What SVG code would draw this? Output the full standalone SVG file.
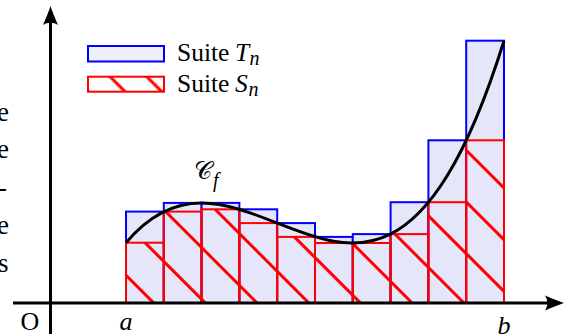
<svg xmlns="http://www.w3.org/2000/svg" width="567" height="334" viewBox="0 0 567 334">
<style>
.t{font-family:"Liberation Serif","DejaVu Serif",serif;fill:#000}
.it{font-style:italic}
.up{fill:#e6e6fa;stroke:#0000ff;stroke-width:2}
.lo{fill:url(#hatch);stroke:#ff0000;stroke-width:2}
.ax{stroke:#000;stroke-width:3;fill:none}
.cv{stroke:#000;stroke-width:3;fill:none}
</style>
<defs>
<pattern id="hatch" patternUnits="userSpaceOnUse" width="100" height="36.557" patternTransform="translate(0,-31.65) rotate(45)">
<rect x="0" y="16.78" width="100" height="3" fill="#ff0000"/>
</pattern>
<pattern id="hatchL" patternUnits="userSpaceOnUse" width="100" height="25.95" patternTransform="translate(0,-51.75) rotate(45)">
<rect x="0" y="11.47" width="100" height="3" fill="#ff0000"/>
</pattern>
<path id="arr" d="M0,0 C-5,-1.5 -12,-4.5 -19,-7.5 C-16,-3 -16,3 -19,7.5 C-12,4.5 -5,1.5 0,0Z" fill="#000"/>
</defs>
<rect width="567" height="334" fill="#fff"/>
<g id="margin-text" class="t" font-size="27" text-anchor="end">
<text x="9" y="121">e</text>
<text x="9" y="158">e</text>
<text x="7" y="196">-</text>
<text x="9" y="234">e</text>
<text x="8.5" y="272">s</text>
</g>
<g id="upper-sum">
<rect class="up" x="126" y="211.6" width="37.8" height="91.4"/>
<rect class="up" x="163.8" y="202.9" width="37.8" height="100.1"/>
<rect class="up" x="201.6" y="202.9" width="37.8" height="100.1"/>
<rect class="up" x="239.4" y="209.3" width="37.8" height="93.7"/>
<rect class="up" x="277.2" y="223.1" width="37.8" height="79.9"/>
<rect class="up" x="315" y="236.9" width="37.8" height="66.1"/>
<rect class="up" x="352.8" y="234.1" width="37.8" height="68.9"/>
<rect class="up" x="390.6" y="202.2" width="37.8" height="100.8"/>
<rect class="up" x="428.4" y="140.3" width="37.8" height="162.7"/>
<rect class="up" x="466.2" y="40.7" width="37.8" height="262.3"/>
</g>
<g id="lower-sum">
<rect class="lo" x="126" y="242.7" width="37.8" height="60.3"/>
<rect class="lo" x="163.8" y="211.6" width="37.8" height="91.4"/>
<rect class="lo" x="201.6" y="209.3" width="37.8" height="93.7"/>
<rect class="lo" x="239.4" y="223.1" width="37.8" height="79.9"/>
<rect class="lo" x="277.2" y="236.9" width="37.8" height="66.1"/>
<rect class="lo" x="315" y="243" width="37.8" height="60"/>
<rect class="lo" x="352.8" y="243" width="37.8" height="60"/>
<rect class="lo" x="390.6" y="234.1" width="37.8" height="68.9"/>
<rect class="lo" x="428.4" y="202.2" width="37.8" height="100.8"/>
<rect class="lo" x="466.2" y="140.3" width="37.8" height="162.7"/>
</g>
<g id="curve">
<path class="cv" d="M126,242.7 C252,93 378,444.2 504,40.7"/>
<text class="t" x="194" y="179" font-size="25">𝒞<tspan font-size="20" dy="8" dx="1" class="it">f</tspan></text>
</g>
<g id="axes">
<line class="ax" x1="13" y1="303" x2="552" y2="303"/>
<use href="#arr" transform="translate(564,303)"/>
<line class="ax" x1="50.5" y1="334" x2="50.5" y2="18"/>
<use href="#arr" transform="translate(50.5,6) rotate(-90)"/>
<text class="t" x="30" y="330" font-size="26" text-anchor="middle">O</text>
<text class="t it" x="126" y="330" font-size="26" text-anchor="middle">a</text>
<text class="t it" x="504" y="334" font-size="26" text-anchor="middle">b</text>
</g>
<g id="legend">
<rect x="88" y="46" width="76" height="15.5" fill="#efeffb" stroke="#0000ff" stroke-width="2"/>
<text class="t" x="177" y="61" font-size="25.5">Suite <tspan class="it" x="235">T</tspan><tspan class="it" font-size="20" dy="4" x="249.5">n</tspan></text>
<rect x="88" y="76.7" width="76" height="15" fill="url(#hatchL)" stroke="#ff0000" stroke-width="2"/>
<text class="t" x="177" y="91.5" font-size="25.5">Suite <tspan class="it" x="235">S</tspan><tspan class="it" font-size="20" dy="4" x="248.5">n</tspan></text>
</g>
</svg>
